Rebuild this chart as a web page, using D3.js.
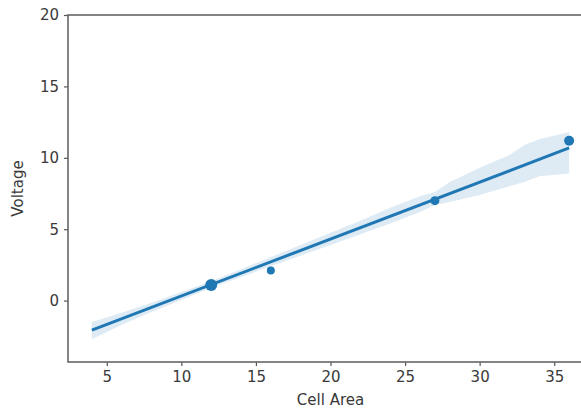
<!DOCTYPE html>
<html>
<head>
<meta charset="utf-8">
<script src="https://d3js.org/d3.v7.min.js"></script>
<style>
  body { margin: 0; background: #fff; }
  text { font-family: "DejaVu Sans", sans-serif; fill: #3a3a3a; }
</style>
</head>
<body>
<div id="chart"></div>
<script>
// scatter points (cell area vs voltage)
var cellArea = [12, 16, 27, 36];
var voltage = [1.1, 2.1, 7.0, 11.2];
var pointSize = [6, 4, 4.5, 5];

// fitted regression line
var fitX = [4, 36];
var fitY = [-2.07, 10.69];

// confidence band around the fit
var ciX = [4, 6, 8, 10, 12, 14, 16, 18, 20, 22, 24, 26, 27, 28, 30, 32, 33, 34, 36];
var ciLo = [-2.7, -1.7, -0.8, 0.05, 0.9, 1.65, 2.4, 3.15, 3.9, 4.65, 5.4, 6.2, 6.7, 6.9, 7.4, 8.0, 8.3, 8.7, 8.9];
var ciHi = [-1.5, -0.85, -0.15, 0.6, 1.35, 2.2, 3.05, 3.9, 4.75, 5.6, 6.5, 7.3, 7.6, 8.3, 9.3, 10.2, 10.9, 11.3, 11.8];

var xTicks = [5, 10, 15, 20, 25, 30, 35];
var yTicks = [0, 5, 10, 15, 20];

var width = 581, height = 412;
// plot box edges (note: "top" is taken by window.top)
var mLeft = 68, mTop = 15, mRight = 593, mBottom = 362;
var blue = "#1f77b4";

var svg = d3.select("#chart").append("svg")
   .attr("width", width)
   .attr("height", height);

var x = d3.scaleLinear().domain([2.4, 37.6]).range([mLeft, mRight]);
var y = d3.scaleLinear().domain([-4.3, 20]).range([mBottom, mTop]);

// band
var band = ciX.map(function (d, i) { return {x: d, lo: ciLo[i], hi: ciHi[i]}; });
svg.append("path")
   .datum(band)
   .attr("d", d3.area()
      .x(function (d) { return x(d.x); })
      .y0(function (d) { return y(d.lo); })
      .y1(function (d) { return y(d.hi); }))
   .attr("fill", blue)
   .attr("fill-opacity", 0.15);

// fit line
svg.append("path")
   .datum(fitX.map(function (d, i) { return [d, fitY[i]]; }))
   .attr("d", d3.line()
      .x(function (d) { return x(d[0]); })
      .y(function (d) { return y(d[1]); }))
   .attr("stroke", blue)
   .attr("stroke-width", 3)
   .attr("fill", "none");

// points
svg.selectAll("circle.pt")
   .data(cellArea)
   .enter().append("circle")
   .attr("class", "pt")
   .attr("cx", function (d) { return x(d); })
   .attr("cy", function (d, i) { return y(voltage[i]); })
   .attr("r", function (d, i) { return pointSize[i]; })
   .attr("fill", blue);

// axes
var xAxis = svg.append("g")
   .attr("transform", "translate(0," + mBottom + ")")
   .call(d3.axisBottom(x).tickValues(xTicks).tickSize(4).tickPadding(5));
var yAxis = svg.append("g")
   .attr("transform", "translate(" + mLeft + ",0)")
   .call(d3.axisLeft(y).tickValues(yTicks).tickSize(4).tickPadding(5));

[xAxis, yAxis].forEach(function (g) {
   g.select(".domain").remove();
   g.selectAll("line").attr("stroke", "#555").attr("stroke-width", 1.2);
   g.selectAll("text").attr("font-size", 15).style("fill", "#3a3a3a")
      .attr("font-family", "DejaVu Sans, sans-serif");
});

// frame
svg.append("rect")
   .attr("x", mLeft)
   .attr("y", mTop)
   .attr("width", mRight - mLeft)
   .attr("height", mBottom - mTop)
   .attr("fill", "none")
   .attr("stroke", "#666")
   .attr("stroke-width", 1.6);

// axis titles
svg.append("text")
   .attr("x", (mLeft + mRight) / 2)
   .attr("y", 405)
   .attr("text-anchor", "middle")
   .attr("font-size", 15)
   .text("Cell Area");

svg.append("text")
   .attr("transform", "translate(23," + ((mTop + mBottom) / 2) + ") rotate(-90)")
   .attr("text-anchor", "middle")
   .attr("font-size", 15)
   .text("Voltage");
</script>
</body>
</html>
